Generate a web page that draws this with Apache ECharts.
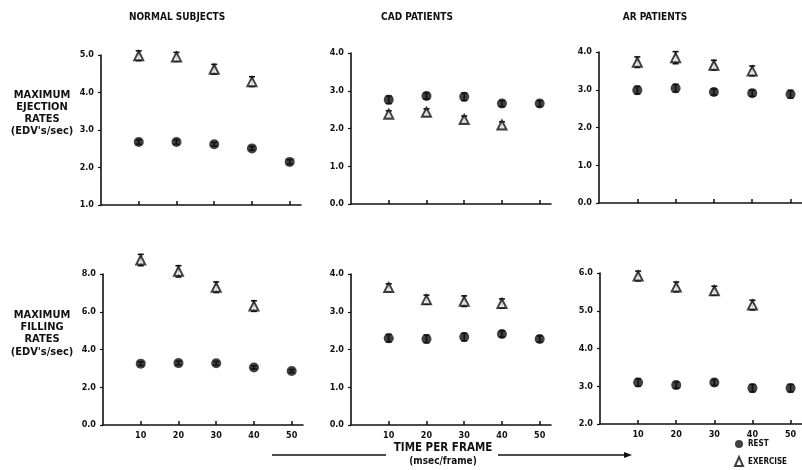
<!DOCTYPE html>
<html>
<head>
<meta charset="utf-8">
<script src="https://cdn.jsdelivr.net/npm/echarts@6/dist/echarts.min.js"></script>
<style>
  html, body { margin:0; padding:0; background:#fff; }
  #chart { width:802px; height:470px; }
</style>
</head>
<body>
<div id="chart"></div>
<script>
// ====== data ======
const frameTimes = [10, 20, 30, 40, 50];
const colTitles = ['NORMAL SUBJECTS', 'CAD PATIENTS', 'AR PATIENTS'];
const rowTitles = [
  ['MAXIMUM', 'EJECTION', 'RATES', "(EDV's/sec)"],
  ['MAXIMUM', 'FILLING', 'RATES', "(EDV's/sec)"]
];

// ejection rates
const normEjRest = [2.68, 2.68, 2.62, 2.51, 2.15];
const normEjRestErr = [0.06, 0.06, 0.05, 0.05, 0.06];
const normEjEx = [4.98, 4.95, 4.62, 4.29];
const normEjExErr = [0.13, 0.12, 0.13, 0.13];

const cadEjRest = [2.76, 2.86, 2.84, 2.66, 2.66];
const cadEjRestErr = [0.1, 0.08, 0.1, 0.08, 0.08];
const cadEjEx = [2.38, 2.43, 2.24, 2.09];
const cadEjExErr = [0.09, 0.09, 0.09, 0.09];

const arEjRest = [2.99, 3.04, 2.94, 2.91, 2.88];
const arEjRestErr = [0.1, 0.1, 0.08, 0.08, 0.1];
const arEjEx = [3.73, 3.85, 3.65, 3.50];
const arEjExErr = [0.14, 0.16, 0.13, 0.13];

// filling rates
const normFiRest = [3.25, 3.28, 3.27, 3.05, 2.86];
const normFiRestErr = [0.1, 0.1, 0.1, 0.08, 0.08];
const normFiEx = [8.74, 8.14, 7.30, 6.30];
const normFiExErr = [0.3, 0.3, 0.28, 0.28];

const cadFiRest = [2.30, 2.28, 2.33, 2.41, 2.28];
const cadFiRestErr = [0.1, 0.1, 0.1, 0.08, 0.08];
const cadFiEx = [3.64, 3.32, 3.28, 3.22];
const cadFiExErr = [0.1, 0.12, 0.14, 0.12];

const arFiRest = [3.10, 3.03, 3.10, 2.95, 2.95];
const arFiRestErr = [0.1, 0.08, 0.08, 0.1, 0.1];
const arFiEx = [5.92, 5.63, 5.53, 5.15];
const arFiExErr = [0.13, 0.13, 0.12, 0.13];

// y axis ranges per panel: [min, max, interval]
const yRanges = [[1, 5, 1], [0, 4, 1], [0, 4, 1], [0, 8, 2], [0, 4, 1], [2, 6, 1]];

const panels = [
  { rest: normEjRest, restErr: normEjRestErr, ex: normEjEx, exErr: normEjExErr },
  { rest: cadEjRest,  restErr: cadEjRestErr,  ex: cadEjEx,  exErr: cadEjExErr },
  { rest: arEjRest,   restErr: arEjRestErr,   ex: arEjEx,   exErr: arEjExErr },
  { rest: normFiRest, restErr: normFiRestErr, ex: normFiEx, exErr: normFiExErr },
  { rest: cadFiRest,  restErr: cadFiRestErr,  ex: cadFiEx,  exErr: cadFiExErr },
  { rest: arFiRest,   restErr: arFiRestErr,   ex: arFiEx,   exErr: arFiExErr }
];

// ====== layout ======
const FONT = "'DejaVu Sans Condensed', 'Liberation Sans', sans-serif";
const grids = [
  { left: 101, top: 55,  width: 200, height: 150 },
  { left: 351, top: 53,  width: 200, height: 151 },
  { left: 599, top: 52,  width: 203, height: 151 },
  { left: 103, top: 274, width: 200, height: 151 },
  { left: 351, top: 274, width: 200, height: 151 },
  { left: 600, top: 273, width: 202, height: 151 }
];

// ---- 誤差棒 ----
function errSeries(gi, ys, es){
  return {
    type: 'custom',
    xAxisIndex: gi, yAxisIndex: gi,
    z: 1, clip: false,
    data: ys.map((y, i) => [frameTimes[i], y, es[i]]),
    renderItem(params, api){
      const x = api.value(0), y = api.value(1), e = api.value(2);
      const t = api.coord([x, y + e]), b = api.coord([x, y - e]);
      const st = { stroke: '#111', lineWidth: 1.6 };
      return { type: 'group', children: [
        { type: 'line', shape: { x1: t[0], y1: t[1], x2: b[0], y2: b[1] }, style: st },
        { type: 'line', shape: { x1: t[0] - 3, y1: t[1], x2: t[0] + 3, y2: t[1] }, style: st },
        { type: 'line', shape: { x1: b[0] - 3, y1: b[1], x2: b[0] + 3, y2: b[1] }, style: st }
      ]};
    }
  };
}

const xAxes = [], yAxes = [], series = [];
panels.forEach((p, gi) => {
  const bottom = gi >= 3;
  xAxes.push({
    gridIndex: gi, type: 'value', min: 0, max: 53,
    axisLine: { lineStyle: { color: '#111', width: 1.6 } },
    axisTick: { show: true, inside: true, length: 4, customValues: frameTimes, lineStyle: { color: '#111', width: 1.5 } },
    axisLabel: { show: bottom, customValues: frameTimes, margin: 6, fontSize: 9, fontWeight: 'bold', fontFamily: FONT, color: '#111' },
    splitLine: { show: false }
  });
  const r = yRanges[gi];
  yAxes.push({
    gridIndex: gi, type: 'value', min: r[0], max: r[1], interval: r[2],
    axisLine: { show: true, lineStyle: { color: '#111', width: 1.6 } },
    axisTick: { show: true, length: 3, lineStyle: { color: '#111', width: 1.2 } },
    axisLabel: { margin: 7, fontSize: 9, fontWeight: 'bold', fontFamily: FONT, color: '#111', formatter: v => v.toFixed(1) },
    splitLine: { show: false }
  });
  series.push(errSeries(gi, p.rest, p.restErr));
  series.push(errSeries(gi, p.ex, p.exErr));
  series.push({
    name: 'REST', type: 'scatter', xAxisIndex: gi, yAxisIndex: gi, z: 3, clip: false,
    symbol: 'circle', symbolSize: 10,
    itemStyle: { color: '#111' },
    data: p.rest.map((y, i) => [frameTimes[i], y])
  });
  series.push({
    name: 'EXERCISE', type: 'scatter', xAxisIndex: gi, yAxisIndex: gi, z: 3, clip: false,
    symbol: 'triangle', symbolSize: 9,
    itemStyle: { color: '#fff', borderColor: '#111', borderWidth: 2 },
    data: p.ex.map((y, i) => [frameTimes[i], y])
  });
});

// ---- 文字與箭頭 ----
const graphics = [];
const colX = [177, 417, 655];
colTitles.forEach((t, i) => graphics.push({
  type: 'text', x: colX[i], y: 17,
  style: { text: t, fontSize: 10, fontWeight: 'bold', fontFamily: FONT, fill: '#111', align: 'center', verticalAlign: 'middle' }
}));
const rowY = [[95, 107, 119, 131], [315, 327, 339, 352]];
rowTitles.forEach((lines, r) => lines.forEach((t, k) => graphics.push({
  type: 'text', x: 42, y: rowY[r][k],
  style: { text: t, fontSize: 11, fontWeight: 'bold', fontFamily: FONT, fill: '#111', align: 'center', verticalAlign: 'middle' }
})));
graphics.push(
  { type: 'text', x: 443, y: 448, style: { text: 'TIME PER FRAME', fontSize: 11.5, fontWeight: 'bold', fontFamily: FONT, fill: '#111', align: 'center', verticalAlign: 'middle' } },
  { type: 'text', x: 443, y: 461, style: { text: '(msec/frame)', fontSize: 10, fontWeight: 'bold', fontFamily: FONT, fill: '#111', align: 'center', verticalAlign: 'middle' } },
  { type: 'line', shape: { x1: 272, y1: 455, x2: 386, y2: 455 }, style: { stroke: '#111', lineWidth: 1.4 } },
  { type: 'line', shape: { x1: 498, y1: 455, x2: 626, y2: 455 }, style: { stroke: '#111', lineWidth: 1.4 } },
  { type: 'polygon', shape: { points: [[632, 455], [624, 452], [624, 458]] }, style: { fill: '#111' } }
);

const chart = echarts.init(document.getElementById('chart'), null, { renderer: 'canvas' });
chart.setOption({
  backgroundColor: '#fff',
  animation: false,
  grid: grids,
  xAxis: xAxes,
  yAxis: yAxes,
  legend: {
    data: ['REST', 'EXERCISE'], orient: 'vertical', left: 734, top: 440,
    padding: 0, itemWidth: 8, itemHeight: 9, itemGap: 8,
    textStyle: { fontSize: 8, fontWeight: 'bold', fontFamily: FONT, color: '#111' },
    selectedMode: false
  },
  series: series,
  graphic: graphics
});
</script>
</body>
</html>
